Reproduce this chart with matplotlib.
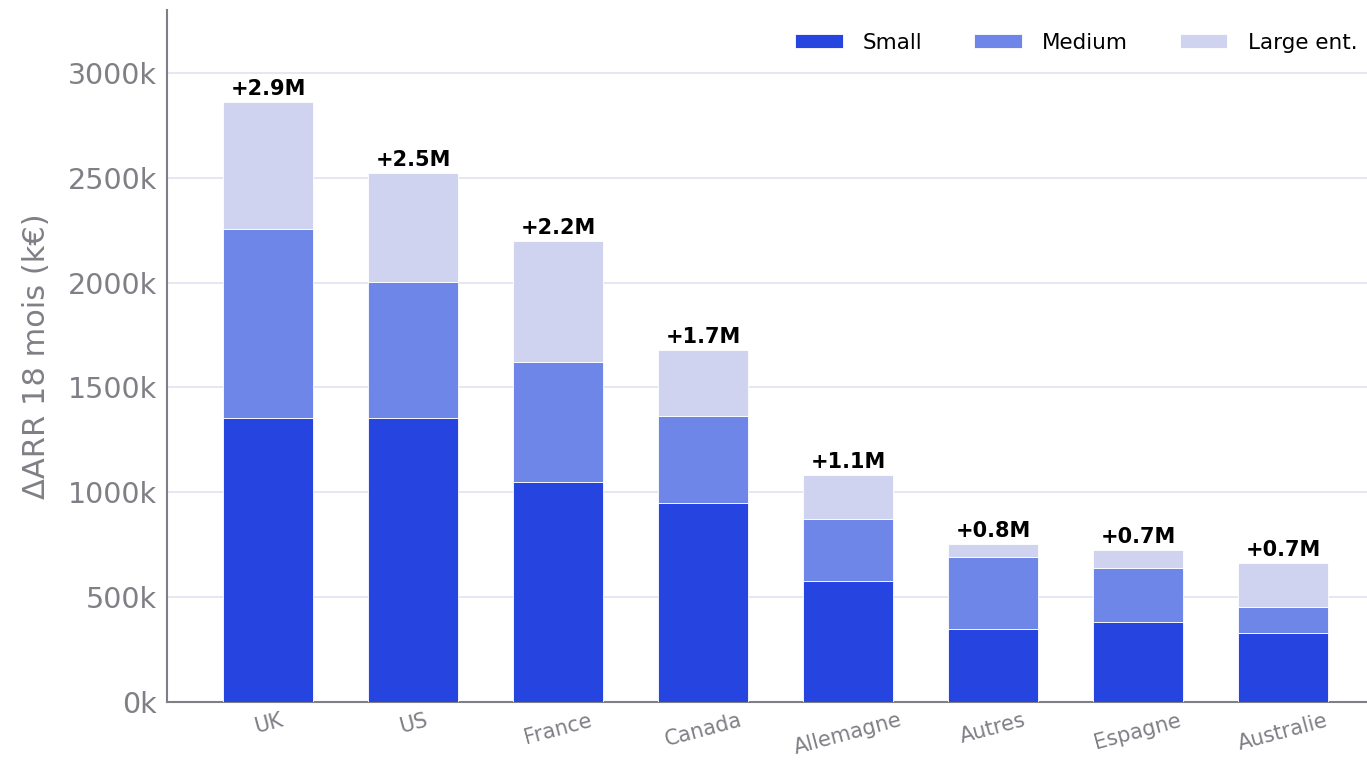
import matplotlib
matplotlib.use("Agg")
import matplotlib.pyplot as plt
import numpy as np

countries = ["UK", "US", "France", "Canada", "Allemagne", "Autres", "Espagne", "Australie"]
small = [1355, 1355, 1050, 950, 577, 348, 381, 329]
medium = [900, 648, 571, 414, 296, 343, 258, 124]
large = [606, 520, 577, 315, 210, 62, 86, 210]
labels = ["+2.9M", "+2.5M", "+2.2M", "+1.7M", "+1.1M", "+0.8M", "+0.7M", "+0.7M"]
yticks = [0, 500, 1000, 1500, 2000, 2500, 3000]

c_small = "#2645e0"
c_med = "#6e86e8"
c_large = "#cfd3ef"
gray = "#7f7f86"

fig = plt.figure(figsize=(13.67, 7.68), dpi=100)
ax = fig.add_axes([0.122, 0.086, 0.878, 0.901])

x = np.arange(len(countries))
w = 0.62
s = np.array(small); m = np.array(medium); l = np.array(large)
ax.bar(x, s, w, color=c_small, edgecolor="white", linewidth=0.6, label="Small", zorder=3)
ax.bar(x, m, w, bottom=s, color=c_med, edgecolor="white", linewidth=0.6, label="Medium", zorder=3)
ax.bar(x, l, w, bottom=s + m, color=c_large, edgecolor="white", linewidth=0.6, label="Large ent.", zorder=3)

tot = s + m + l
for xi, t, lab in zip(x, tot, labels):
    ax.text(xi, t + 15, lab, ha="center", va="bottom", fontsize=15, fontweight="bold", color="black")

ax.set_xlim(-0.7, 7.58)
ax.set_ylim(0, 3300)
ax.set_yticks(yticks)
ax.set_yticklabels([f"{v}k" for v in yticks], fontsize=20.5, color=gray)
ax.set_xticks(x)
ax.set_xticklabels(countries, rotation=15, fontsize=15, color=gray)
ax.tick_params(axis="y", length=0, pad=7)
ax.tick_params(axis="x", length=0, pad=6)

ax.grid(axis="y", color="#e2e3f2", linewidth=1.2, zorder=0)
ax.set_axisbelow(True)
for sp in ["top", "right"]:
    ax.spines[sp].set_visible(False)
for sp in ["left", "bottom"]:
    ax.spines[sp].set_color(gray)
    ax.spines[sp].set_linewidth(1.5)

ax.set_ylabel("ΔARR 18 mois (k€)", fontsize=22, color=gray, labelpad=12)

ax.legend(loc="upper right", ncol=3, frameon=False, fontsize=15.5,
          handlelength=2.2, handleheight=0.65, handletextpad=0.95,
          columnspacing=2.4, bbox_to_anchor=(1.008, 0.995))

fig.savefig("out.png", dpi=100)
